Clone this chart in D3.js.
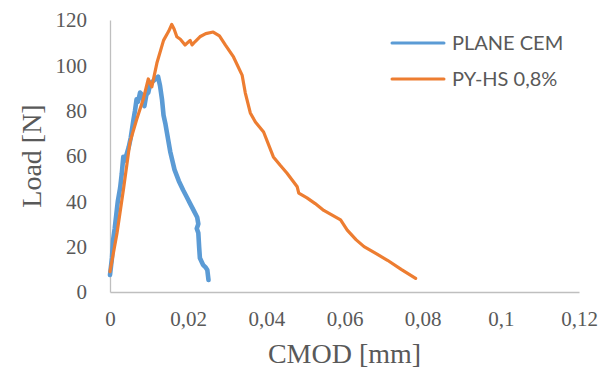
<!DOCTYPE html>
<html>
<head>
<meta charset="utf-8">
<script src="https://cdn.jsdelivr.net/npm/d3@7"></script>
<style>
  body { margin: 0; background: #fff; }
  .tick text { font-family: "Liberation Serif", "DejaVu Serif", serif; fill: #595959; }
  .axis-title { font-family: "Liberation Serif", serif; fill: #595959; }
  .legend text { font-family: Lato, "Open Sans", sans-serif; fill: #595959; }
</style>
</head>
<body>
<svg id="chart"></svg>
<script>
// CMOD [mm] vs Load [N]
var planeCmod = [0, 0.0005, 0.0008, 0.0012, 0.0016, 0.002, 0.0026, 0.003, 0.0034, 0.0038, 0.0043, 0.0048, 0.0053, 0.006, 0.0064, 0.0068, 0.0072, 0.0077, 0.0083, 0.0088, 0.0093, 0.0098, 0.0103, 0.011, 0.0117, 0.0123, 0.0128, 0.0133, 0.0137, 0.0142, 0.0146, 0.015, 0.0154, 0.0165, 0.0176, 0.0187, 0.0196, 0.0205, 0.0214, 0.0223, 0.0226, 0.0222, 0.0226, 0.0228, 0.023, 0.0238, 0.0244, 0.0249, 0.0252];
var planeLoad = [7.5, 15, 23, 28, 34, 40, 46, 52, 59.6, 58, 61, 64, 68, 76, 80, 85, 84, 88, 87, 82, 87, 88, 92, 93, 94, 95, 91, 85, 78, 74, 70, 66, 62, 54, 49, 45, 42, 39, 36, 33, 30, 28, 26, 20, 15, 12, 11, 9.7, 5.3];

var pyCmod = [0, 0.0018, 0.0035, 0.0051, 0.0068, 0.0085, 0.0098, 0.0107, 0.012, 0.0137, 0.015, 0.0158, 0.0164, 0.0171, 0.018, 0.0192, 0.0205, 0.021, 0.0218, 0.023, 0.0245, 0.0264, 0.028, 0.0295, 0.0316, 0.0338, 0.0346, 0.0359, 0.0372, 0.0393, 0.0418, 0.0435, 0.0453, 0.0479, 0.0483, 0.0504, 0.0525, 0.0547, 0.059, 0.0607, 0.063, 0.065, 0.068, 0.071, 0.0745, 0.0782];
var pyLoad = [9, 26, 46, 66, 76, 85, 94, 90.5, 101, 111, 115, 118, 116, 112.6, 111.5, 109, 111, 109, 110.5, 112.6, 114, 114.7, 113, 109, 103.7, 95.7, 88, 79, 75, 70.6, 59.6, 56, 52.4, 46.4, 43.6, 41.5, 39, 36, 31.8, 27.3, 23, 20, 17, 14, 10, 6];

var series = [
  { name: "PLANE CEM", x: planeCmod, y: planeLoad, color: "#5b9bd5", width: 4.6 },
  { name: "PY-HS 0,8%", x: pyCmod, y: pyLoad, color: "#ed7d31", width: 3.2 }
];

var xTicks = [0, 0.02, 0.04, 0.06, 0.08, 0.1, 0.12];
var yTicks = [0, 20, 40, 60, 80, 100, 120];

var width = 611, height = 369;
var margin = {top: 20, right: 32, bottom: 77, left: 110};

var svg = d3.select("#chart")
  .attr("width", width)
  .attr("height", height);

var xScale = d3.scaleLinear().domain([0, 0.12]).range([margin.left, width - margin.right]);
var yScale = d3.scaleLinear().domain([0, 120]).range([height - margin.bottom, margin.top]);

var fmt = function(d) { return String(d).replace(".", ","); };

var xAxis = svg.append("g")
  .attr("transform", `translate(0, ${height - margin.bottom})`)
  .call(d3.axisBottom(xScale).tickValues(xTicks).tickFormat(fmt).tickSize(0).tickPadding(19));

var yAxis = svg.append("g")
  .attr("transform", `translate(${margin.left}, 0)`)
  .call(d3.axisLeft(yScale).tickValues(yTicks).tickSize(0).tickPadding(23));

svg.selectAll(".domain").attr("stroke", "#bfbfbf").attr("stroke-width", 1.3);
svg.selectAll(".tick text").style("font-size", "21px");

svg.append("text")
  .attr("class", "axis-title")
  .attr("x", xScale(0.06))
  .attr("y", 363)
  .attr("text-anchor", "middle")
  .style("font-size", "28px")
  .text("CMOD [mm]");

svg.append("text")
  .attr("class", "axis-title")
  .attr("transform", `translate(41, ${yScale(60)}) rotate(-90)`)
  .attr("text-anchor", "middle")
  .style("font-size", "28px")
  .text("Load [N]");

var line = d3.line()
  .x(function(d) { return xScale(d[0]); })
  .y(function(d) { return yScale(d[1]); });

series.forEach(function(s) {
  svg.append("path")
    .datum(d3.zip(s.x, s.y))
    .attr("d", line)
    .attr("fill", "none")
    .attr("stroke", s.color)
    .attr("stroke-width", s.width)
    .attr("stroke-linejoin", "round")
    .attr("stroke-linecap", "round");
});

// legend
var legend = svg.append("g").attr("class", "legend");
series.forEach(function(s, i) {
  var y = 43 + i * 36;
  legend.append("line")
    .attr("x1", 392).attr("x2", 444)
    .attr("y1", y).attr("y2", y)
    .attr("stroke", s.color)
    .attr("stroke-width", 3)
    .attr("stroke-linecap", "round");
  legend.append("text")
    .attr("x", 452)
    .attr("y", y + 7)
    .style("font-size", "20px")
    .text(s.name);
});
</script>
</body>
</html>
